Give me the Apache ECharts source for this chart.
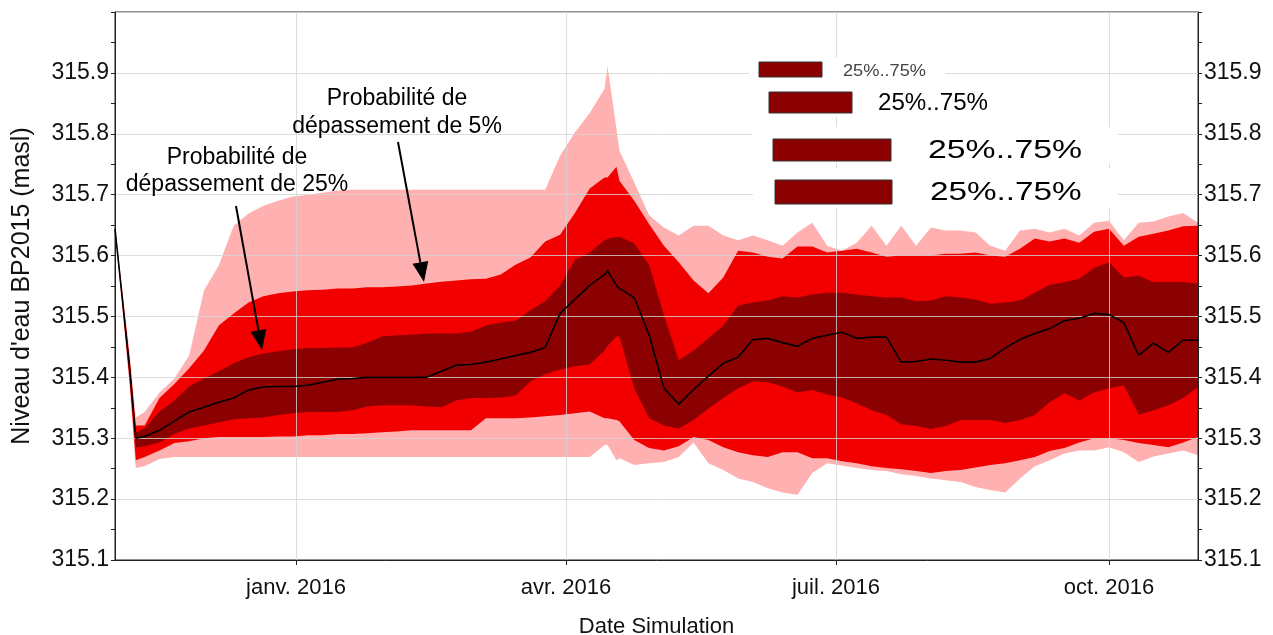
<!DOCTYPE html>
<html lang="fr">

<head>
  <meta charset="UTF-8">
  <title>Niveau d'eau BP2015</title>
  <style>
    html, body { margin: 0; padding: 0; background: #fff; }
  </style>
</head>

<body>
  <div id="main" style="width: 1273px;height: 635px;"></div>
</body>
<script src="https://cdn.jsdelivr.net/npm/echarts@6/dist/echarts.min.js"></script>
<script>
  // dates des points
  var dates = [
    '2015-11-01', '2015-11-06', '2015-11-08', '2015-11-11', '2015-11-16', '2015-11-21', '2015-11-26',
    '2015-12-01', '2015-12-06', '2015-12-11', '2015-12-16', '2015-12-21', '2015-12-26', '2015-12-31',
    '2016-01-05', '2016-01-10', '2016-01-15', '2016-01-20', '2016-01-25', '2016-01-30',
    '2016-02-04', '2016-02-09', '2016-02-14', '2016-02-19', '2016-02-24', '2016-02-29',
    '2016-03-05', '2016-03-10', '2016-03-15', '2016-03-20', '2016-03-25', '2016-03-30',
    '2016-04-04', '2016-04-09', '2016-04-14', '2016-04-15', '2016-04-18', '2016-04-19', '2016-04-24', '2016-04-29',
    '2016-05-04', '2016-05-09', '2016-05-14', '2016-05-19', '2016-05-24', '2016-05-29',
    '2016-06-03', '2016-06-08', '2016-06-13', '2016-06-18', '2016-06-23', '2016-06-28',
    '2016-07-03', '2016-07-08', '2016-07-13', '2016-07-18', '2016-07-23', '2016-07-28',
    '2016-08-02', '2016-08-07', '2016-08-12', '2016-08-17', '2016-08-22', '2016-08-27',
    '2016-09-01', '2016-09-06', '2016-09-11', '2016-09-16', '2016-09-21', '2016-09-26',
    '2016-10-01', '2016-10-06', '2016-10-11', '2016-10-16', '2016-10-21', '2016-10-26', '2016-10-31'
  ];

  // mediane (ligne noire)
  var median = [
    315.644, 315.411, 315.300, 315.303, 315.313, 315.328, 315.343,
    315.351, 315.359, 315.366, 315.379, 315.384, 315.385, 315.385,
    315.387, 315.392, 315.397, 315.398, 315.400, 315.400,
    315.400, 315.400, 315.400, 315.410, 315.420, 315.421,
    315.425, 315.430, 315.436, 315.441, 315.449, 315.505,
    315.528, 315.551, 315.569, 315.575, 315.551, 315.546, 315.531, 315.470,
    315.382, 315.356, 315.380, 315.402, 315.423, 315.433,
    315.462, 315.464, 315.457, 315.451, 315.464, 315.469,
    315.474, 315.464, 315.466, 315.466, 315.425, 315.426,
    315.430, 315.428, 315.425, 315.425, 315.431, 315.448,
    315.462, 315.472, 315.480, 315.493, 315.497, 315.505,
    315.503, 315.490, 315.436, 315.456, 315.441, 315.461, 315.461
  ];

  // bande 25%..75% (rouge fonce)
  var darkHigh = [
    315.644, 315.420, 315.310, 315.316, 315.344, 315.362, 315.385,
    315.398, 315.410, 315.423, 315.433, 315.439, 315.443, 315.446,
    315.448, 315.448, 315.449, 315.449, 315.457, 315.467,
    315.469, 315.470, 315.472, 315.472, 315.472, 315.475,
    315.485, 315.490, 315.493, 315.510, 315.525, 315.551,
    315.593, 315.605, 315.625, 315.628, 315.630, 315.631, 315.620, 315.585,
    315.502, 315.428, 315.444, 315.464, 315.485, 315.518,
    315.523, 315.526, 315.533, 315.531, 315.536, 315.539,
    315.539, 315.536, 315.533, 315.531, 315.531, 315.525,
    315.526, 315.533, 315.531, 315.528, 315.521, 315.523,
    315.526, 315.539, 315.552, 315.556, 315.562, 315.580,
    315.589, 315.564, 315.567, 315.556, 315.557, 315.556, 315.554
  ];
  var darkLow = [
    315.644, 315.403, 315.285, 315.287, 315.293, 315.307, 315.316,
    315.321, 315.326, 315.331, 315.333, 315.334, 315.338, 315.341,
    315.343, 315.343, 315.343, 315.346, 315.352, 315.354,
    315.354, 315.354, 315.352, 315.351, 315.362, 315.366,
    315.366, 315.367, 315.370, 315.393, 315.405, 315.413,
    315.418, 315.421, 315.444, 315.452, 315.467, 315.467, 315.382, 315.333,
    315.321, 315.316, 315.330, 315.349, 315.366, 315.382,
    315.393, 315.392, 315.385, 315.375, 315.379, 315.372,
    315.367, 315.357, 315.346, 315.338, 315.323, 315.320,
    315.315, 315.320, 315.330, 315.330, 315.330, 315.325,
    315.330, 315.338, 315.359, 315.374, 315.362, 315.375,
    315.382, 315.387, 315.339, 315.346, 315.354, 315.366, 315.384
  ];

  // bande rouge (depassement 5% en haut)
  var redHigh = [
    315.644, 315.428, 315.321, 315.321, 315.366, 315.389, 315.415,
    315.444, 315.485, 315.505, 315.523, 315.533, 315.538, 315.541,
    315.543, 315.544, 315.546, 315.546, 315.548, 315.548,
    315.549, 315.551, 315.554, 315.557, 315.559, 315.561,
    315.562, 315.569, 315.585, 315.597, 315.623, 315.634,
    315.670, 315.710, 315.728, 315.728, 315.746, 315.723, 315.690, 315.652,
    315.616, 315.589, 315.559, 315.538, 315.564, 315.608,
    315.605, 315.598, 315.595, 315.615, 315.615, 315.605,
    315.608, 315.611, 315.605, 315.598, 315.600, 315.600,
    315.600, 315.603, 315.603, 315.605, 315.600, 315.598,
    315.611, 315.628, 315.623, 315.628, 315.621, 315.639,
    315.644, 315.616, 315.631, 315.636, 315.641, 315.648, 315.649
  ];
  var redLow = [
    315.644, 315.389, 315.264, 315.269, 315.280, 315.292, 315.295,
    315.300, 315.302, 315.302, 315.302, 315.302, 315.303, 315.303,
    315.305, 315.305, 315.307, 315.307, 315.308, 315.310,
    315.311, 315.313, 315.313, 315.313, 315.313, 315.313,
    315.333, 315.333, 315.333, 315.334, 315.336, 315.338,
    315.341, 315.344, 315.333, 315.333, 315.330, 315.328, 315.297, 315.284,
    315.280, 315.287, 315.302, 315.297, 315.285, 315.277,
    315.272, 315.269, 315.277, 315.277, 315.267, 315.267,
    315.262, 315.259, 315.254, 315.251, 315.249, 315.246,
    315.243, 315.246, 315.248, 315.252, 315.256, 315.259,
    315.264, 315.269, 315.279, 315.284, 315.293, 315.300,
    315.300, 315.297, 315.292, 315.289, 315.285, 315.293, 315.302
  ];

  // enveloppe rose
  var pinkHigh = [
    315.648, 315.438, 315.334, 315.343, 315.375, 315.398, 315.436,
    315.543, 315.584, 315.649, 315.669, 315.682, 315.690, 315.697,
    315.700, 315.703, 315.707, 315.708, 315.708, 315.708,
    315.708, 315.708, 315.708, 315.708, 315.708, 315.708,
    315.708, 315.708, 315.708, 315.708, 315.708, 315.764,
    315.802, 315.834, 315.874, 315.911, 315.808, 315.772, 315.720, 315.666,
    315.646, 315.633, 315.649, 315.649, 315.633, 315.625,
    315.633, 315.625, 315.616, 315.638, 315.654, 315.616,
    315.608, 315.621, 315.649, 315.616, 315.649, 315.616,
    315.646, 315.641, 315.641, 315.638, 315.616, 315.608,
    315.641, 315.644, 315.638, 315.644, 315.633, 315.654,
    315.657, 315.625, 315.654, 315.656, 315.664, 315.670, 315.654
  ];
  var pinkLow = [
    315.641, 315.379, 315.251, 315.254, 315.266, 315.269, 315.269,
    315.269, 315.269, 315.269, 315.269, 315.269, 315.269, 315.269,
    315.269, 315.269, 315.269, 315.269, 315.269, 315.269,
    315.269, 315.269, 315.269, 315.269, 315.269, 315.269,
    315.269, 315.269, 315.269, 315.269, 315.269, 315.269,
    315.269, 315.269, 315.289, 315.289, 315.264, 315.267, 315.256, 315.259,
    315.261, 315.269, 315.293, 315.259, 315.248, 315.234,
    315.228, 315.218, 315.211, 315.207, 315.243, 315.259,
    315.255, 315.251, 315.248, 315.246, 315.241, 315.238,
    315.234, 315.231, 315.228, 315.220, 315.215, 315.211,
    315.234, 315.254, 315.264, 315.275, 315.280, 315.280,
    315.285, 315.277, 315.261, 315.270, 315.275, 315.280, 315.272
  ];

  var xTickDates = ['2016-01-01', '2016-04-01', '2016-07-01', '2016-10-01'];
  var xTickLabels = ['janv. 2016', 'avr. 2016', 'juil. 2016', 'oct. 2016'];
  var legendLabel = '25%..75%';

  var chartDom = document.getElementById('main');
  var myChart = echarts.init(chartDom);
  var option;

  function ts(s) {
    var p = s.split('-');
    return +new Date(+p[0], +p[1] - 1, +p[2]);
  }
  var xTicks = xTickDates.map(ts);

  function pairs(arr) {
    return dates.map(function (d, i) { return [ts(d), arr[i]]; });
  }
  // chaque courbe remplie depuis le bas ; les couches se recouvrent dans l'ordre
  // z negatif pour que la grille reste visible par-dessus
  function layer(name, arr, color) {
    return {
      name: name, type: 'line', data: pairs(arr), symbol: 'none', silent: true, z: -1,
      lineStyle: { width: 0, opacity: 0 },
      areaStyle: { color: color, opacity: 1, origin: 'start' }
    };
  }

  var pink = '#ffb0b0', red = '#f20000', dark = '#8b0000';
  var gridColor = 'rgba(212,212,212,0.8)';
  var font = '"Liberation Sans", Arial, sans-serif';

  function yAxis(pos, grid) {
    return {
      type: 'value', position: pos, min: 315.1, max: 316.0, interval: 0.1, z: 3,
      axisLine: { show: true, lineStyle: { color: '#222', width: 1 } },
      axisTick: { show: true, length: 4, lineStyle: { color: '#222' } },
      minorTick: { show: true, splitNumber: 2, length: 4, lineStyle: { color: '#222' } },
      axisLabel: {
        formatter: function (v) { return v.toFixed(1); },
        fontSize: 23, color: '#111', margin: 6, showMaxLabel: false, fontFamily: font
      },
      splitLine: { show: grid, lineStyle: { color: gridColor, width: 1 } }
    };
  }

  // fleches d'annotation
  function arrow(x1, y1, x2, y2) {
    var dx = x2 - x1, dy = y2 - y1, len = Math.sqrt(dx * dx + dy * dy);
    var ux = dx / len, uy = dy / len, hl = 20, hw = 8;
    var bx = x2 - ux * hl, by = y2 - uy * hl;
    return [
      { type: 'line', z: 50, shape: { x1: x1, y1: y1, x2: bx, y2: by }, style: { stroke: '#000', lineWidth: 2 } },
      {
        type: 'polygon', z: 50,
        shape: { points: [[x2, y2], [bx - uy * hw, by + ux * hw], [bx + uy * hw, by - ux * hw]] },
        style: { fill: '#000' }
      }
    ];
  }

  // legende (4 lignes identiques, tailles differentes)
  var legendRows = [
    { box: [749, 58, 196, 27], bar: [759, 62, 63, 15], tx: 843, ty: 71, size: 17, sx: 1.07, color: '#444' },
    { box: [752, 85, 250, 32], bar: [769, 92, 83, 21], tx: 878, ty: 104, size: 23, sx: 1.05, color: '#000' },
    { box: [752, 127, 366, 36], bar: [773, 139, 118, 22], tx: 928, ty: 151, size: 26, sx: 1.3, color: '#000' },
    { box: [753, 168, 365, 40], bar: [775, 180, 117, 24], tx: 930, ty: 193, size: 26, sx: 1.28, color: '#000' }
  ];
  var graphics = [];
  legendRows.forEach(function (r) {
    graphics.push({ type: 'rect', z: 40, shape: { x: r.box[0], y: r.box[1], width: r.box[2], height: r.box[3] }, style: { fill: '#fff' } });
    graphics.push({ type: 'rect', z: 41, shape: { x: r.bar[0], y: r.bar[1], width: r.bar[2], height: r.bar[3] }, style: { fill: dark, stroke: '#333', lineWidth: 1 } });
    graphics.push({
      type: 'text', z: 41, x: r.tx, y: r.ty, scaleX: r.sx,
      style: {
        text: legendLabel, font: r.size + 'px ' + font, fill: r.color,
        textAlign: 'left', textVerticalAlign: 'middle', align: 'left', verticalAlign: 'middle'
      }
    });
  });
  graphics.push({
    type: 'text', z: 50, x: 237, y: 171,
    style: {
      text: 'Probabilité de\ndépassement de 25%', font: '23px ' + font, fill: '#000', lineHeight: 27,
      textAlign: 'center', textVerticalAlign: 'middle', align: 'center', verticalAlign: 'middle'
    }
  });
  graphics.push({
    type: 'text', z: 50, x: 397, y: 113,
    style: {
      text: 'Probabilité de\ndépassement de 5%', font: '23px ' + font, fill: '#000', lineHeight: 28,
      textAlign: 'center', textVerticalAlign: 'middle', align: 'center', verticalAlign: 'middle'
    }
  });
  graphics = graphics.concat(arrow(236, 206, 262, 350), arrow(398, 142, 424, 282));

  option = {
    animation: false,
    backgroundColor: '#fff',
    textStyle: { fontFamily: font },
    grid: {
      left: 115, right: 75, top: 12, bottom: 75, outerBoundsMode: 'none', containLabel: false,
      show: true, borderColor: '#222', borderWidth: 1
    },
    xAxis: {
      // axe en millisecondes, graduations trimestrielles
      type: 'value', min: ts('2015-11-01'), max: ts('2016-10-31'), z: 3,
      axisLine: { lineStyle: { color: '#222', width: 1 } },
      axisTick: { show: true, length: 5, customValues: xTicks, lineStyle: { color: '#222' } },
      axisLabel: {
        customValues: xTicks, fontSize: 22, color: '#111', margin: 17, fontFamily: font,
        formatter: function (v) {
          var i = xTicks.indexOf(+v);
          return i >= 0 ? xTickLabels[i] : '';
        }
      },
      splitLine: { show: true, lineStyle: { color: gridColor, width: 1 } },
      name: 'Date Simulation', nameLocation: 'middle', nameGap: 56,
      nameTextStyle: { fontSize: 22, color: '#111', fontFamily: font }
    },
    yAxis: [
      Object.assign(yAxis('left', true), {
        name: "Niveau d'eau BP2015 (masl)", nameLocation: 'middle', nameRotate: 90, nameGap: 80,
        nameTextStyle: { fontSize: 25, color: '#111', fontFamily: font }
      }),
      yAxis('right', false)
    ],
    graphic: graphics,
    series: [
      layer('Enveloppe haute', pinkHigh, pink),
      layer('5% haut', redHigh, red),
      layer('25%', darkHigh, dark),
      layer('75%', darkLow, red),
      layer('95% bas', redLow, pink),
      layer('Enveloppe basse', pinkLow, '#ffffff'),
      {
        name: 'Médiane', type: 'line', data: pairs(median), symbol: 'none', z: 4, silent: true,
        lineStyle: { color: '#000', width: 1.6 }
      }
    ]
  };

  option && myChart.setOption(option);
</script>

</html>
